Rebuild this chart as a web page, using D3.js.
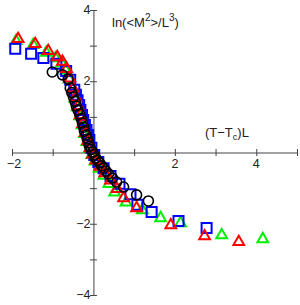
<!DOCTYPE html>
<html>
<head>
<meta charset="utf-8">
<script src="https://cdn.jsdelivr.net/npm/d3@7"></script>
<style>
  body { margin: 0; background: #fff; }
  svg text { font-family: "Liberation Sans", Arial, sans-serif; fill: #222; }
</style>
</head>
<body>
<svg id="chart" width="300" height="305"></svg>
<script>
// scaling data, four system sizes
const blackCircles = [
  [-1.01, 2.26], [-0.76, 2.18], [-0.62, 2.06], [-0.57, 1.81], [-0.53, 1.68],
  [-0.49, 1.56], [-0.45, 1.43], [-0.42, 1.31], [-0.38, 1.19], [-0.34, 1.08],
  [-0.30, 0.95], [-0.27, 0.83], [-0.24, 0.71], [-0.22, 0.60], [-0.18, 0.49],
  [-0.15, 0.38], [-0.12, 0.28], [-0.10, 0.18], [-0.06, 0.09], [-0.02, 0.01],
  [0.02, -0.07], [0.05, -0.15], [0.10, -0.22], [0.15, -0.29], [0.20, -0.37],
  [0.25, -0.44], [0.31, -0.52], [0.37, -0.60], [0.47, -0.72], [0.57, -0.83],
  [0.74, -0.97], [1.06, -1.19], [1.35, -1.36]
];
const blueSquares = [
  [-1.92, 2.91], [-1.53, 2.77], [-1.23, 2.65], [-0.91, 2.49], [-0.67, 2.29],
  [-0.57, 2.04], [-0.47, 1.76], [-0.43, 1.62], [-0.39, 1.47], [-0.35, 1.33],
  [-0.32, 1.19], [-0.28, 1.05], [-0.25, 0.91], [-0.21, 0.77], [-0.17, 0.63],
  [-0.13, 0.49], [-0.10, 0.35], [-0.05, 0.13], [0.02, -0.07], [0.12, -0.27],
  [0.25, -0.44], [0.42, -0.66], [0.64, -0.88], [0.91, -1.17], [1.08, -1.47],
  [1.43, -1.67], [2.09, -1.92], [2.78, -2.12]
];
const greenTriangles = [
  [-1.90, 3.13], [-1.48, 3.02], [-1.16, 2.80], [-0.93, 2.65], [-0.78, 2.50],
  [-0.68, 2.30], [-0.60, 2.05], [-0.52, 1.78], [-0.46, 1.52], [-0.40, 1.27],
  [-0.34, 1.02], [-0.28, 0.77], [-0.22, 0.52], [-0.16, 0.30], [-0.10, 0.10],
  [-0.04, -0.07], [0.04, -0.25], [0.14, -0.45], [0.26, -0.65], [0.38, -0.88],
  [0.52, -1.12], [0.80, -1.40], [1.20, -1.62], [1.65, -1.84], [2.14, -1.98],
  [3.15, -2.32], [4.16, -2.43]
];
const redTriangles = [
  [-1.85, 3.19], [-1.43, 3.05], [-1.11, 2.85], [-0.89, 2.68], [-0.76, 2.55],
  [-0.66, 2.35], [-0.58, 2.08], [-0.50, 1.80], [-0.44, 1.55], [-0.38, 1.30],
  [-0.32, 1.05], [-0.26, 0.80], [-0.20, 0.55], [-0.14, 0.32], [-0.08, 0.12],
  [-0.02, -0.05], [0.06, -0.22], [0.16, -0.40], [0.28, -0.58], [0.42, -0.78],
  [0.58, -1.02], [0.74, -1.28], [1.06, -1.56], [1.90, -2.04], [2.73, -2.35],
  [3.57, -2.51]
];
const xTicks = [-2, -1, 0, 1, 2, 3, 4, 5];
const xTickLabels = [-2, 2, 4];
const yTicks = [-4, -3, -2, -1, 0, 1, 2, 3, 4];
const yTickLabels = [-4, -2, 2, 4];

const svg = d3.select("#chart");
const x = d3.scaleLinear().domain([-2, 5]).range([12, 297]);
const y = d3.scaleLinear().domain([-4, 4]).range([295, 10]);
const fmt = (d) => (d < 0 ? "\u2212" + Math.abs(d) : String(d));

// --- axes through the origin ---
const xAxis = svg.append("g")
  .attr("transform", `translate(0,${y(0)})`)
  .call(d3.axisBottom(x).tickValues(xTicks).tickSize(0).tickFormat(""));
xAxis.select(".domain").attr("stroke", "#444");
xAxis.selectAll(".tick line").attr("y1", -3.5).attr("y2", 3.5).attr("stroke", "#444");

const yAxis = svg.append("g")
  .attr("transform", `translate(${x(0)},0)`)
  .call(d3.axisLeft(y).tickValues(yTicks).tickSize(0).tickFormat(""));
yAxis.select(".domain").attr("stroke", "#444");
yAxis.selectAll(".tick line").attr("x1", -3.5).attr("x2", 3.5).attr("stroke", "#444");

svg.append("g").selectAll("text")
  .data(xTickLabels)
  .join("text")
  .attr("x", (d) => x(d) + (d < 0 ? 2 : 0))
  .attr("y", y(0) + 15)
  .attr("text-anchor", "middle")
  .attr("font-size", 12.5)
  .text(fmt);

svg.append("g").selectAll("text")
  .data(yTickLabels)
  .join("text")
  .attr("x", x(0) - 3)
  .attr("y", (d) => y(d) + 4)
  .attr("text-anchor", "end")
  .attr("font-size", 12.5)
  .text(fmt);

// axis titles
const yTitle = svg.append("text").attr("x", 112).attr("y", 27).attr("font-size", 13);
yTitle.append("tspan").text("ln(<M");
yTitle.append("tspan").attr("dy", -6).attr("font-size", 10).text("2");
yTitle.append("tspan").attr("dy", 6).text(">/L");
yTitle.append("tspan").attr("dy", -6).attr("font-size", 10).text("3");
yTitle.append("tspan").attr("dy", 6).text(")");

const xTitle = svg.append("text").attr("x", 205).attr("y", 137).attr("font-size", 13);
xTitle.append("tspan").text("(T\u2212T");
xTitle.append("tspan").attr("dy", 3).attr("font-size", 9).text("c");
xTitle.append("tspan").attr("dy", -3).text(")L");

// --- markers ---
function drawSeries(data, symbol, size, color, width) {
  svg.append("g").selectAll("path")
    .data(data)
    .join("path")
    .attr("transform", (d) => `translate(${x(d[0])},${y(d[1])})`)
    .attr("d", d3.symbol().type(symbol).size(size))
    .attr("fill", "none")
    .attr("stroke", color)
    .attr("stroke-width", width);
}

drawSeries(greenTriangles, d3.symbolTriangle, 50, "#00ee00", 2);
drawSeries(blueSquares, d3.symbolSquare, 100, "#0000ff", 2);
drawSeries(redTriangles, d3.symbolTriangle, 50, "#ff0000", 2);
drawSeries(blackCircles, d3.symbolCircle, Math.PI * 25, "#000", 1.6);
</script>
</body>
</html>
